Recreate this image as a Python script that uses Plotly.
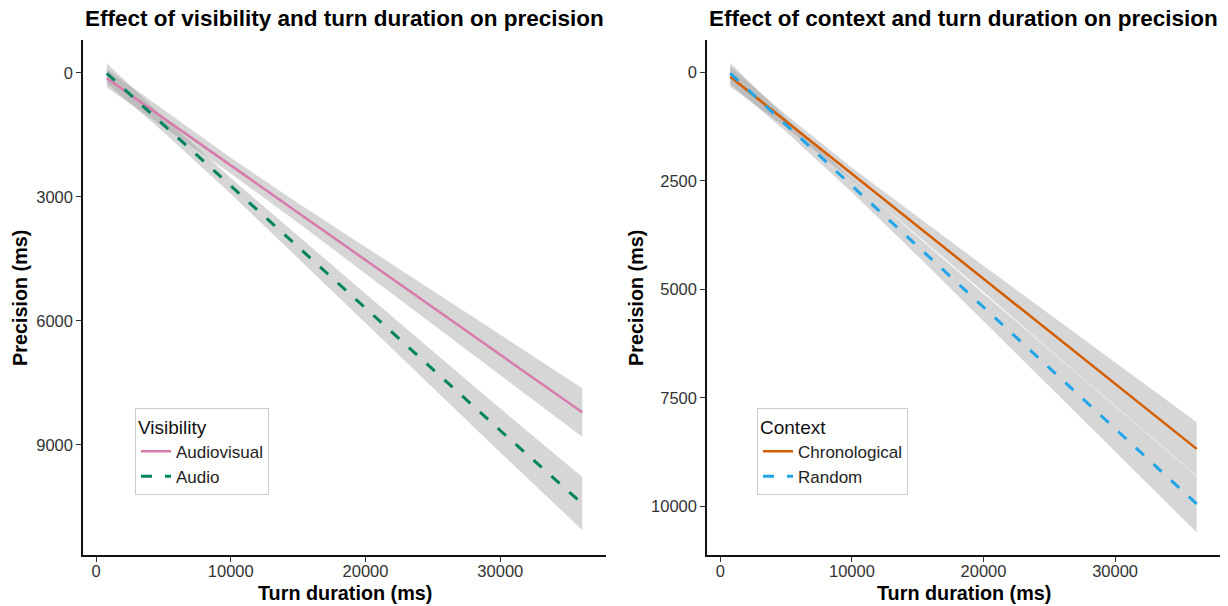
import plotly.graph_objects as go

# ---------------- data ----------------
# Left panel: visibility
x_vis = [800, 5000, 10000, 15000, 20000, 25000, 30000, 36080]
av_fit = [128, 1092, 2240, 3388, 4536, 5684, 6832, 8210]
av_lo = [-95, 890, 2050, 3150, 4215, 5285, 6340, 7625]
av_hi = [350, 1290, 2430, 3625, 4855, 6085, 7320, 8800]
au_fit = [7, 1250, 2730, 4210, 5690, 7170, 8650, 10420]
au_lo = [-235, 1070, 2540, 3950, 5340, 6730, 8120, 9775]
au_hi = [250, 1430, 2920, 4470, 6040, 7610, 9180, 11060]

# Right panel: context
x_ctx = [760, 5000, 10000, 15000, 20000, 25000, 30000, 36200]
ch_fit = [101, 1127, 2336, 3546, 4755, 5965, 7174, 8672]
ch_lo = [-130, 977, 2196, 3336, 4455, 5565, 6674, 8058]
ch_hi = [331, 1277, 2476, 3756, 5060, 6380, 7680, 9290]
rd_fit = [23, 1210, 2609, 4009, 5408, 6808, 8207, 9940]
rd_lo = [-215, 1050, 2459, 3789, 5092, 6392, 7681, 9300]
rd_hi = [263, 1370, 2759, 4229, 5728, 7228, 8737, 10595]

x_ticks = [0, 10000, 20000, 30000]
x_tick_labels = ["0", "10000", "20000", "30000"]
y_ticks_left = [0, 3000, 6000, 9000]
y_tick_labels_left = ["0", "3000", "6000", "9000"]
y_ticks_right = [0, 2500, 5000, 7500, 10000]
y_tick_labels_right = ["0", "2500", "5000", "7500", "10000"]

titles = ["Effect of visibility and turn duration on precision",
          "Effect of context and turn duration on precision"]

W, H = 1228, 606
FONT = "Liberation Sans, Arial, sans-serif"
BAND = "rgba(153,153,153,0.4)"

fig = go.Figure()


def band(x, lo, hi, xa, ya):
    fig.add_trace(go.Scatter(
        x=list(x) + list(x)[::-1], y=list(lo) + list(hi)[::-1],
        fill="toself", fillcolor=BAND, line=dict(width=0),
        mode="lines", hoverinfo="skip", showlegend=False,
        xaxis=xa, yaxis=ya))


band(x_vis, av_lo, av_hi, "x", "y")
band(x_vis, au_lo, au_hi, "x", "y")
band(x_ctx, ch_lo, ch_hi, "x2", "y2")
band(x_ctx, rd_lo, rd_hi, "x2", "y2")

fig.add_trace(go.Scatter(x=x_vis, y=av_fit, mode="lines", name="Audiovisual",
                         line=dict(color="#D77BAD", width=2.5),
                         xaxis="x", yaxis="y", legend="legend"))
fig.add_trace(go.Scatter(x=x_vis, y=au_fit, mode="lines", name="Audio",
                         line=dict(color="#00845F", width=3, dash="11px,13px"),
                         xaxis="x", yaxis="y", legend="legend"))
fig.add_trace(go.Scatter(x=x_ctx, y=ch_fit, mode="lines", name="Chronological",
                         line=dict(color="#D55E00", width=2.5),
                         xaxis="x2", yaxis="y2", legend="legend2"))
fig.add_trace(go.Scatter(x=x_ctx, y=rd_fit, mode="lines", name="Random",
                         line=dict(color="#22A5E8", width=3, dash="11px,13px"),
                         xaxis="x2", yaxis="y2", legend="legend2"))

# ---------------- layout ----------------
def px_x(p):
    return p / W


def px_y(p):
    return 1 - p / H


axis_common = dict(showgrid=False, zeroline=False, showline=True,
                   linecolor="#111111", linewidth=1.5,
                   ticks="outside", ticklen=5, tickwidth=1.2,
                   tickcolor="#333333",
                   tickfont=dict(family=FONT, size=16.5, color="#333333"),
                   automargin=False)

ydom = [px_y(555), px_y(40)]

legend_common = dict(xanchor="left", yanchor="top",
                     bordercolor="#cccccc", borderwidth=1, bgcolor="white",
                     font=dict(size=17, color="#222"), tracegroupgap=0,
                     itemwidth=30)

fig.update_layout(
    width=W, height=H,
    margin=dict(l=0, r=0, t=0, b=0),
    paper_bgcolor="white", plot_bgcolor="white",
    font=dict(family=FONT),
    xaxis=dict(domain=[px_x(83), px_x(606)], range=[-965, 37844],
               tickvals=x_ticks, ticktext=x_tick_labels, anchor="y",
               ticklabelstandoff=-5, **axis_common),
    yaxis=dict(domain=ydom, range=[11662, -798],
               tickvals=y_ticks_left, ticktext=y_tick_labels_left,
               anchor="x", **axis_common),
    xaxis2=dict(domain=[px_x(707), px_x(1220)], range=[-1010, 37972],
                tickvals=x_ticks, ticktext=x_tick_labels, anchor="y2",
                ticklabelstandoff=-5, **axis_common),
    yaxis2=dict(domain=ydom, range=[11116, -745],
                tickvals=y_ticks_right, ticktext=y_tick_labels_right,
                anchor="x2", **axis_common),
    legend=dict(x=px_x(135), y=px_y(408),
                title=dict(text="Visibility", font=dict(size=19, color="#111")),
                **legend_common),
    legend2=dict(x=px_x(757), y=px_y(408),
                 title=dict(text="Context", font=dict(size=19, color="#111")),
                 **legend_common),
    showlegend=True,
)

annotations = []
for txt, x0 in zip(titles, [83, 707]):
    annotations.append(dict(text="<b>" + txt + "</b>", x=px_x(x0), y=px_y(19),
                            xref="paper", yref="paper", xanchor="left",
                            yanchor="middle", showarrow=False,
                            font=dict(family=FONT, size=22.5, color="#000")))
for cx in [344.5, 963.5]:
    annotations.append(dict(text="<b>Turn duration (ms)</b>", x=px_x(cx),
                            y=px_y(593), xref="paper", yref="paper",
                            xanchor="center", yanchor="middle",
                            showarrow=False,
                            font=dict(family=FONT, size=19.8, color="#000")))
for cx in [20, 636]:
    annotations.append(dict(text="<b>Precision (ms)</b>", x=px_x(cx),
                            y=px_y(298), xref="paper", yref="paper",
                            xanchor="center", yanchor="middle", textangle=-90,
                            showarrow=False,
                            font=dict(family=FONT, size=19.8, color="#000")))
fig.update_layout(annotations=annotations)

fig.write_html("out.html")
